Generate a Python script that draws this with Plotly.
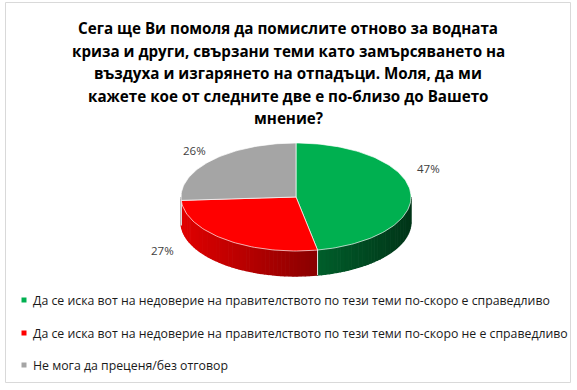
import math
import plotly.graph_objects as go

# ---- data ----
categories = [
    "Да се иска вот на недоверие на правителството по тези теми по-скоро е справедливо",
    "Да се иска вот на недоверие на правителството по тези теми по-скоро не е справедливо",
    "Не мога да преценя/без отговор",
]
values = [47, 27, 26]
value_labels = ["47%", "27%", "26%"]
title_lines = [
    "Сега ще Ви помоля да помислите отново за водната",
    "криза и други, свързани теми като замърсяването на",
    "въздуха и изгарянето на отпадъци. Моля, да ми",
    "кажете кое от следните две е по-близо до Вашето",
    "мнение?",
]

# ---- style ----
colors = [(0x00, 0xB0, 0x50), (0xFF, 0x00, 0x00), (0xA5, 0xA5, 0xA5)]
W, H = 577, 390
cx, cy, rx, ry, depth = 296, 197, 115, 54, 25
label_pos = [(428, 168), (162, 250), (194, 150)]
legend_rows = [300, 333, 365]
title_y0, title_dy = 28, 22.6
FONT = "Open Sans"


def rgb(c, f=1.0):
    return "rgb(%d,%d,%d)" % tuple(int(round(v * f)) for v in c)


def pt(theta, dy=0.0):
    t = math.radians(theta)
    return cx + rx * math.sin(t), cy - ry * math.cos(t) + dy


fig = go.Figure()

total = sum(values)
angles = []
a = 0.0
for v in values:
    b = a + 360.0 * v / total
    angles.append((a, b))
    a = b

# side walls (front half only, 90..270 deg clockwise from top)
for (a, b), c in zip(angles, colors):
    s, e = max(a, 90.0), min(b, 270.0)
    if s >= e:
        continue
    n = max(2, int((e - s) / 2))
    step = (e - s) / n
    for i in range(n):
        t0, t1 = s + i * step, s + (i + 1) * step
        xs, ys = [], []
        for k in range(4):
            x, y = pt(t0 + (t1 - t0) * k / 3)
            xs.append(x); ys.append(y)
        for k in range(3, -1, -1):
            x, y = pt(t0 + (t1 - t0) * k / 3, depth)
            xs.append(x); ys.append(y)
        xm = pt((t0 + t1) / 2)[0]
        tt = (xm - (cx - rx)) / (2 * rx)
        f = 0.88 - 0.58 * tt
        col = rgb(c, f)
        fig.add_trace(go.Scatter(x=xs, y=ys, mode="lines", fill="toself",
                                 fillcolor=col, line=dict(color=col, width=1.3),
                                 hoverinfo="skip", showlegend=False))

# boundary lines on the side wall
for (a, b) in angles:
    for t in (a, b):
        if 90 < t < 270:
            x0, y0 = pt(t)
            x1, y1 = pt(t, depth)
            fig.add_trace(go.Scatter(x=[x0, x1], y=[y0, y1], mode="lines",
                                     line=dict(color="rgba(255,255,255,0.8)", width=0.8),
                                     hoverinfo="skip", showlegend=False))

# top faces
for (a, b), c, name in zip(angles, colors, categories):
    n = max(3, int((b - a) / 1.5))
    xs, ys = [cx], [cy]
    for k in range(n + 1):
        x, y = pt(a + (b - a) * k / n)
        xs.append(x); ys.append(y)
    xs.append(cx); ys.append(cy)
    fig.add_trace(go.Scatter(x=xs, y=ys, mode="lines", fill="toself",
                             fillcolor=rgb(c), line=dict(color="rgba(255,255,255,0.85)", width=0.8),
                             name=name, hoverinfo="name", showlegend=False))

# value labels
for (lx, ly), txt in zip(label_pos, value_labels):
    fig.add_annotation(x=lx, y=ly, text=txt, showarrow=False, xanchor="center", yanchor="middle",
                       font=dict(family=FONT, size=11.5, color="#404040"))

# legend
fig.add_trace(go.Scatter(x=[24] * len(categories), y=legend_rows, mode="markers",
                         marker=dict(symbol="square", size=5, color=[rgb(c) for c in colors]),
                         hoverinfo="skip", showlegend=False))
for name, y in zip(categories, legend_rows):
    fig.add_annotation(x=31, y=y, text=name, showarrow=False, xanchor="left", yanchor="middle",
                       font=dict(family=FONT, size=12.3, color="#1a1a1a"))

# title
for i, line in enumerate(title_lines):
    fig.add_annotation(x=288, y=title_y0 + i * title_dy, text="<b>%s</b>" % line, showarrow=False,
                       xanchor="center", yanchor="middle",
                       font=dict(family=FONT, size=15.2, color="#000000"))

# chart frame
fig.add_shape(type="rect", xref="x", yref="y", x0=5.5, y0=2.5, x1=570.5, y1=382.5,
              line=dict(color="#d9d9d9", width=1), fillcolor="rgba(0,0,0,0)", layer="below")

fig.update_layout(
    width=W, height=H, margin=dict(l=0, r=0, t=0, b=0),
    paper_bgcolor="white", plot_bgcolor="white",
    xaxis=dict(range=[0, W], visible=False, fixedrange=True),
    yaxis=dict(range=[H, 0], visible=False, fixedrange=True),
    showlegend=False,
)
fig.write_html("out.html")
